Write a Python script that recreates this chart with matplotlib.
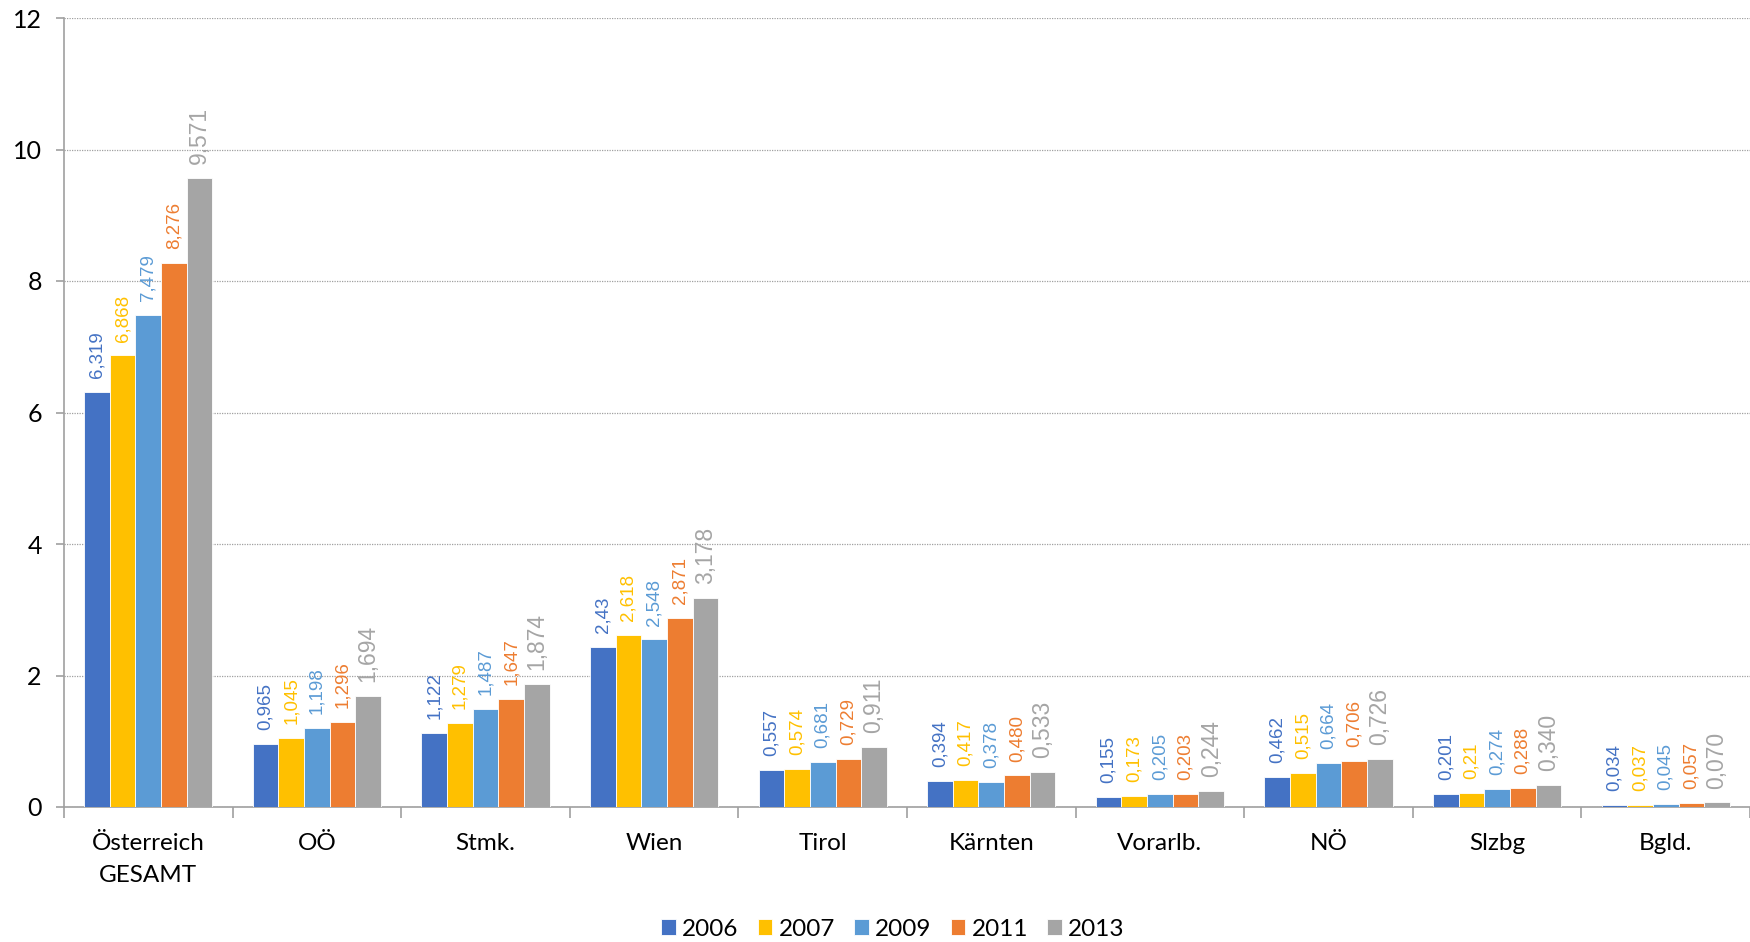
import matplotlib
matplotlib.use('Agg')
import matplotlib.pyplot as plt
import numpy as np

categories = ['Österreich\nGESAMT', 'OÖ', 'Stmk.', 'Wien', 'Tirol', 'Kärnten',
              'Vorarlb.', 'NÖ', 'Slzbg', 'Bgld.']
years = ['2006', '2007', '2009', '2011', '2013']
labels_2006 = ['6,319', '0,965', '1,122', '2,43', '0,557', '0,394', '0,155', '0,462', '0,201', '0,034']
labels_2007 = ['6,868', '1,045', '1,279', '2,618', '0,574', '0,417', '0,173', '0,515', '0,21', '0,037']
labels_2009 = ['7,479', '1,198', '1,487', '2,548', '0,681', '0,378', '0,205', '0,664', '0,274', '0,045']
labels_2011 = ['8,276', '1,296', '1,647', '2,871', '0,729', '0,480', '0,203', '0,706', '0,288', '0,057']
labels_2013 = ['9,571', '1,694', '1,874', '3,178', '0,911', '0,533', '0,244', '0,726', '0,340', '0,070']
colors = ['#4472C4', '#FFC000', '#5B9BD5', '#ED7D31', '#A5A5A5']

series_labels = [labels_2006, labels_2007, labels_2009, labels_2011, labels_2013]

fig = plt.figure(figsize=(17.5, 9.42), dpi=100)
ax = fig.add_axes([64 / 1750, 1 - 807 / 942, 1 - 64 / 1750, (807 - 18) / 942])

x = np.arange(len(categories))
w = 0.152
for i, (yr, labs, col) in enumerate(zip(years, series_labels, colors)):
    vals = [float(s.replace(',', '.')) for s in labs]
    pos = x + (i - 2) * w
    ax.bar(pos, vals, width=w, color=col, label=yr, edgecolor='white', linewidth=0.6, zorder=3)
    fs = 16.5 if yr == '2013' else 13.5
    for px, v, s in zip(pos, vals, labs):
        ax.annotate(s, (px, v), xytext=(0, 10), textcoords='offset points',
                    rotation=90, ha='center', va='bottom', color=col,
                    fontsize=fs, family='Liberation Sans', zorder=4)

ax.set_xlim(-0.5, len(categories) - 0.5)
ax.set_ylim(0, 12)
ax.set_yticks(range(0, 13, 2))
ax.set_yticklabels([str(t) for t in range(0, 13, 2)], fontsize=18, family='Lato')
ax.set_xticks(x)
ax.set_xticklabels(categories, fontsize=17.5, family='Lato', linespacing=1.6)
ax.set_xticks(np.arange(-0.5, len(categories), 1), minor=True)
ax.tick_params(axis='x', which='major', length=0, pad=19)
ax.tick_params(axis='x', which='minor', length=8, color='#A0A0A0', width=1.2)
ax.tick_params(axis='y', length=6, color='#A0A0A0', width=1.2, pad=10)

ax.grid(True, axis='y', linestyle=(0, (1, 1)), color='#A0A0A0', linewidth=0.9, zorder=0)
for sp in ['top', 'right']:
    ax.spines[sp].set_visible(False)
for sp in ['left', 'bottom']:
    ax.spines[sp].set_color('#A0A0A0')
    ax.spines[sp].set_linewidth(1.2)

fig.legend(loc='center', bbox_to_anchor=(893 / 1750, 1 - 929 / 942), ncol=5, frameon=False,
           prop={'family': 'Lato', 'size': 17.5}, handlelength=0.6, handleheight=0.6,
           handletextpad=0.25, columnspacing=0.8)

fig.savefig('out.png', dpi=100)
